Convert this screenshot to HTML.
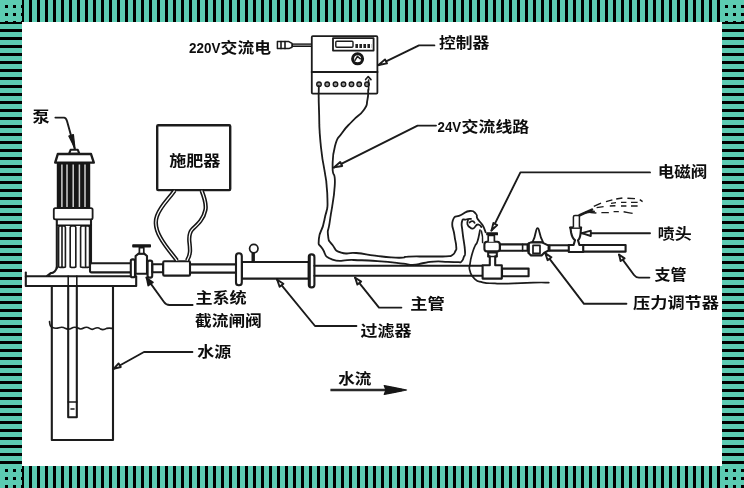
<!DOCTYPE html>
<html lang="zh-CN">
<head>
<meta charset="utf-8">
<title>灌溉施肥系统示意图</title>
<style>
html,body{margin:0;padding:0;background:#fff;}
body{width:744px;height:488px;overflow:hidden;position:relative;}
svg{position:absolute;left:0;top:0;display:block;}
.t{font-family:"Liberation Sans","Noto Sans CJK SC",sans-serif;font-size:15px;font-weight:700;fill:#111;}
.l{fill:none;stroke:#1a1a1a;stroke-width:2.1;stroke-linecap:round;stroke-linejoin:round;}
.w{fill:#fff;stroke:#1a1a1a;stroke-width:2.1;stroke-linejoin:round;}
.k{fill:#151515;stroke:none;}
</style>
</head>
<body>
<svg width="744" height="488" viewBox="0 0 744 488">
<defs>
<pattern id="pv" x="0" y="0" width="8" height="8" patternUnits="userSpaceOnUse"><rect x="0" y="0" width="8" height="8" fill="#5ccbb2"/><rect x="5" y="0" width="3" height="8" fill="#000"/></pattern>
<pattern id="ph" x="0" y="0" width="8" height="8" patternUnits="userSpaceOnUse"><rect x="0" y="0" width="8" height="8" fill="#5ccbb2"/><rect x="0" y="5" width="8" height="3" fill="#000"/></pattern>
<pattern id="pd" x="0" y="0" width="8" height="8" patternUnits="userSpaceOnUse"><rect x="0" y="0" width="8" height="8" fill="#5ccbb2"/><rect x="5" y="5" width="3" height="3" fill="#000"/></pattern>
<filter id="soft" x="0" y="0" width="744" height="488" filterUnits="userSpaceOnUse"><feGaussianBlur stdDeviation="0.55"/></filter>
</defs>
<!-- border -->
<g id="border" shape-rendering="crispEdges">
<rect x="0" y="0" width="744" height="488" fill="#5ccbb2"/>
<rect x="22" y="0" width="698" height="22" fill="url(#pv)"/>
<rect x="22" y="466" width="698" height="22" fill="url(#pv)"/>
<rect x="0" y="22" width="22" height="442" fill="url(#ph)"/>
<rect x="722" y="22" width="22" height="442" fill="url(#ph)"/>
<rect x="0" y="0" width="22" height="22" fill="url(#pd)"/>
<rect x="720" y="0" width="24" height="22" fill="url(#pd)"/>
<rect x="0" y="464" width="22" height="24" fill="url(#pd)"/>
<rect x="720" y="464" width="24" height="24" fill="url(#pd)"/>
<rect x="22" y="22" width="700" height="444" fill="#fff"/>
</g>
<g id="drawing" filter="url(#soft)">
<g id="diagram">
<!-- well and platform -->
<g id="well">
<path class="l" d="M51.8 286 V440 H113 V286"/>
<path class="l" d="M68.2 276.5 V417.3 H76.8 V276.5"/>
<path class="l" d="M68.2 402 H76.8 M71 409 H74" style="stroke-width:1.6"/>
<path class="l" d="M49.5 321.5 q0.3 5 2.5 5.8 q3.5 1.6 7 0.4 q3.4 -1.2 6.2 0.6 q3 1.8 6.3 -0.1 q3 -1.7 6.5 -0.2 q2.8 1.9 5.6 0 q3 -1.8 6 0.4 q2.6 1.9 5.2 0 q3 -1.6 5.6 0.6 q3 1.4 6.2 -0.6 q2.6 -0.6 5.4 0" style="stroke-width:1.6"/>
<path class="w" d="M25.8 276.2 H136.2 V286 H25.8 Z"/>
<path class="l" d="M25.8 276.2 V272.6"/>
<path class="l" d="M68.2 276.5 V286 M76.8 276.5 V286" style="stroke-width:1.6"/>
</g>
<!-- pump -->
<g id="pump">
<path class="w" d="M69 153.8 L70.6 149.8 H77.8 L79.4 153.8 Z"/>
<path class="w" d="M55.2 162.6 L57.8 154 H91 L93.8 162.6 Z" style="stroke-width:2.4"/>
<rect class="k" x="56.8" y="162.6" width="33.4" height="45.6"/>
<path d="M61.9 164.5 V207 M67 164.5 V207 M73.2 164.5 V207 M79.4 164.5 V207 M85 164.5 V207" fill="none" stroke="#cfcfcf" stroke-width="1.5"/>
<rect class="w" x="53.8" y="208.2" width="38.8" height="11.2" rx="1.6" style="stroke-width:1.8"/>
<path class="l" d="M56.8 220 V268 M91 220 V264"/>
<path class="l" d="M57.5 225.2 H90.5" style="stroke-width:1.6"/>
<path class="l" d="M58.6 267 V227.6 q0 -1.6 1.6 -1.6 H63.8 q1.6 0 1.6 1.6 V267 q-3.4 1 -6.8 0 Z M62 227 V267" style="stroke-width:1.6"/>
<path class="l" d="M70.2 267 V227.6 q0 -1.6 1.6 -1.6 H74.2 q1.6 0 1.6 1.6 V267 q-2.8 1 -5.6 0 Z" style="stroke-width:1.6"/>
<path class="l" d="M80.6 267 V227.6 q0 -1.6 1.6 -1.6 H88 q1.6 0 1.6 1.6 V267 q-4.5 1 -9 0 Z M85.6 227 V267" style="stroke-width:1.6"/>
<path class="l" d="M56.8 267.4 Q55.6 272.6 50.5 273.2 L47.2 275.8 M50.5 273.2 L48 276" />
</g>
<!-- pipe pump -> valve -->
<g id="pipe1">
<path class="w" d="M130.8 263.2 H91.6 q-1.6 0 -1.6 1.6 V270.8 q0 1.6 1.6 1.6 H130.8"/>
</g>
<!-- gate valve -->
<g id="valve">
<rect class="w" x="130.8" y="259.4" width="4.2" height="17.8" rx="1.8"/>
<path class="w" d="M135.6 273.8 V256 L138.6 253.6 H144.2 L147 256 V273.8 Z"/>
<rect class="w" x="147.6" y="260.6" width="4.6" height="17" rx="1.8"/>
<path class="w" d="M139.4 253.6 V247.6 H143.8 V253.6 Z" style="stroke-width:1.7"/>
<rect class="k" x="132.2" y="244.2" width="18.8" height="3.4" rx="0.8"/>
<path class="w" d="M152.4 264.2 H163.2 V272.2 H152.4 Z"/>
</g>
<!-- injector -->
<g id="injector">
<rect class="w" x="163.2" y="261.2" width="26.8" height="14.4" rx="1.2"/>
<path class="l" d="M190 264.4 H236 M190 272.6 H236"/>
</g>
<!-- filter -->
<g id="filter">
<path class="w" d="M241.8 262 H308.8 V278.6 H241.8 Z"/>
<rect class="w" x="236" y="253.2" width="5.8" height="32" rx="2.8"/>
<rect class="w" x="308.8" y="254.4" width="5.6" height="33" rx="2.6"/>
<path class="l" d="M309.6 256.5 V285.5" style="stroke-width:2.4"/>
<path class="l" d="M253.2 253 V261.6" style="stroke-width:3.4;stroke-linecap:butt"/>
<circle class="w" cx="253.8" cy="248.6" r="4.2" style="stroke-width:1.7"/>
</g>
<!-- main pipe -->
<g id="mainpipe">
<path class="l" d="M314.4 265.8 H482.6 M314.4 275.8 H482.6"/>
<path class="w" d="M502 268.6 H528.6 V276.2 H502 Z"/>
<path class="w" d="M482.6 265.2 H489.8 V256.4 H488.2 V252.4 H496.8 V256.4 H495.2 V265.2 H501.8 V278.6 H482.6 Z" />
<path class="l" d="M488.2 256.4 H496.8" style="stroke-width:1.5"/>
</g>
<!-- solenoid valve + branch line -->
<g id="solenoid">
<path class="w" d="M499.8 244.4 H527.6 V250.8 H499.8 Z"/>
<path class="l" d="M522.6 244.4 V250.8" style="stroke-width:1.6"/>
<rect class="w" x="484.4" y="241.8" width="15.4" height="9.6" rx="2.6"/>
<path class="w" d="M488.2 241.8 V235.4 H494.4 V241.8" style="stroke-width:1.7"/>
<rect class="k" x="486.2" y="232.3" width="11.8" height="3" rx="0.6"/>
</g>
<g id="regulator">
<path class="w" d="M532.4 242.4 Q534.8 238 535.8 232 Q537.6 224.4 539.4 232 Q540.6 238 543.2 242.4 Z" style="stroke-width:1.8"/>
<path class="w" d="M528.6 243.4 L531 242.4 H541.6 L544 243.4 L548.6 245.6 V250.4 L544 253 L541.6 255.4 H531 L528.6 253 Z"/>
<rect class="w" x="533" y="245.4" width="7" height="8" style="stroke-width:1.7"/>
<path class="l" d="M528.6 243.4 V253" style="stroke-width:2"/>
<path class="l" d="M548.8 245.2 H569 M548.8 250.6 H569"/>
<path class="l" d="M549.4 245.6 V250.4" style="stroke-width:2.2"/>
</g>
<g id="sprinkler">
<path class="w" d="M583 245 H625.6 V251.6 H583 Z"/>
<path class="w" d="M570.4 227.8 L571.2 233 Q572.4 238.4 575 240.2 L573.6 245 H568.8 V252 H583.2 V245 H579.4 L578 240.2 Q580.2 238.4 580.6 233 L581 227.8 Z"/>
<path class="l" d="M570 227.6 H581.2" style="stroke-width:2"/>
<path class="w" d="M573.4 227.4 V217 q0 -1.6 1.6 -1.6 H579.4 V227.4" style="stroke-width:1.5"/>
<path class="l" d="M579.6 215.2 L592 209.6" style="stroke-width:2.6"/>
<path class="l" d="M586 212.4 L594 211.4" style="stroke-width:2"/>
<g class="l" style="stroke-width:1.4;stroke-linecap:butt">
<path d="M593.8 206.4 L601 203.2 M606 201.6 L612.4 199.8 M616.2 199 L622.4 198 M627.4 198.2 L635 198.6 M639.8 199.6 L642.6 201.6"/>
<path d="M596.6 207.6 L603.6 206.6 M609.8 206 L615.4 205.8 M611 203.4 L616 202.6 M621 202.4 H626.4 M631 202.4 H637.6 M621 206 H626.4 M631 206 H637.6"/>
<path d="M590.4 212.6 L596.4 213 M601.4 212.6 H608.8 M613.6 211.6 H618.8 M623.6 211.8 L628 212.6 L632.6 213.4"/>
</g>
</g>
<!-- fertilizer box -->
<g id="fert">
<rect class="w" x="157.2" y="125.3" width="73" height="64.8" rx="1" style="stroke-width:2.4"/>
<path d="M174.6 190.6 C168 200 160.5 206 157 216 C154 224 156.6 231 160.6 238 C165 246 171 252.6 177 260.6" fill="none" stroke="#151515" stroke-width="4.3"/>
<path d="M174.6 190.6 C168 200 160.5 206 157 216 C154 224 156.6 231 160.6 238 C165 246 171 252.6 177 260.6" fill="none" stroke="#fff" stroke-width="1.2"/>
<path d="M201.6 190.6 C204.6 198 206.6 204 205.4 210 C203.6 219 198 224 192.6 229 C189.6 232 188.8 236 189.4 242 C190.2 249 191 254 187 260.6" fill="none" stroke="#151515" stroke-width="4.3"/>
<path d="M201.6 190.6 C204.6 198 206.6 204 205.4 210 C203.6 219 198 224 192.6 229 C189.6 232 188.8 236 189.4 242 C190.2 249 191 254 187 260.6" fill="none" stroke="#fff" stroke-width="1.2"/>
</g>
<!-- controller -->
<g id="controller">
<rect class="w" x="311.8" y="36.2" width="65.6" height="57.4" rx="1" style="stroke-width:1.8"/>
<path class="l" d="M311.8 72 H377.4"/>
<rect class="w" x="333" y="38.2" width="40.6" height="12.4" style="stroke-width:1.8"/>
<rect class="w" x="335.8" y="41.2" width="17.2" height="6" rx="1" style="stroke-width:1.4"/>
<path d="M355.4 46 H371.6" fill="none" stroke="#222" stroke-width="4.2" stroke-dasharray="2.6 1.4"/>
<circle cx="357.6" cy="58.8" r="5" fill="#fff" stroke="#151515" stroke-width="3"/>
<path class="l" d="M355 60.4 L357.4 56.4 L360.4 58.8" style="stroke-width:1.5"/>
<g fill="#999" stroke="#151515" stroke-width="1.3">
<circle cx="319" cy="84.3" r="2.3"/><circle cx="327.2" cy="84.3" r="2.3"/><circle cx="335.5" cy="84.3" r="2.3"/><circle cx="343.5" cy="84.3" r="2.3"/><circle cx="351.5" cy="84.3" r="2.3"/><circle cx="359.2" cy="84.3" r="2.3"/><circle cx="367" cy="84.3" r="2.3"/>
</g>
<path class="l" d="M365.6 79.6 L368.2 76.6 L371 79.6 M368.6 80 V90" style="stroke-width:1.6"/>
<!-- plug -->
<path d="M292 45.2 H311.8" fill="none" stroke="#151515" stroke-width="3.6"/>
<path d="M293 45.2 H311" fill="none" stroke="#bbb" stroke-width="0.9"/>
<path class="w" d="M277.4 41.6 H288.8 L292 43.4 V47.2 L288.8 48.6 H277.4 Z" style="stroke-width:1.5"/>
<path class="l" d="M281 41.6 V48.6 M285 41.6 V48.6" style="stroke-width:1.6"/>
</g>
<!-- wires -->
<g id="wires" class="l" style="stroke-width:1.8">
<path d="M318.8 86.0 C318.9 93.2 318.3 91.5 319.0 110.0 C319.7 128.4 318.5 122.8 321.0 147.5 C323.5 172.2 326.2 170.8 327.2 192.5 C328.2 214.2 326.9 206.2 324.4 220.0 C321.9 233.8 319.5 230.0 318.9 238.6 C318.3 247.2 318.4 242.5 322.5 248.8 C326.6 255.1 323.1 256.2 332.5 259.6 C341.9 263.0 340.3 259.5 353.8 260.0 C367.3 260.5 362.7 260.1 377.5 261.2 C392.3 262.3 392.5 262.5 403.0 263.6 C413.5 264.7 406.3 265.0 412.5 264.8 C418.7 264.6 417.4 264.0 423.8 263.0 C430.2 262.0 426.5 262.0 433.8 261.6 C441.1 261.2 440.7 261.7 448.0 261.8 C455.3 261.9 453.9 262.2 458.0 262.1 C462.1 262.0 459.9 262.9 461.6 261.4 C463.3 259.9 462.8 260.1 463.8 257.0 C464.8 253.9 465.4 258.4 465.0 251.0 C464.6 243.7 463.5 241.3 462.6 232.5 C461.7 223.7 461.0 225.4 462.0 221.5 C463.0 217.6 463.3 220.3 466.0 219.5 C468.7 218.7 469.5 219.0 471.0 218.8"/>
<path d="M368.2 90.0 C368.0 93.0 368.7 94.0 367.4 100.0 C366.1 106.0 368.3 103.7 363.8 110.0 C359.3 116.3 359.0 114.1 352.5 121.0 C346.0 127.9 347.2 125.5 342.0 133.0 C336.8 140.5 337.8 135.7 335.0 146.0 C332.2 156.3 332.7 155.8 332.6 167.5 C332.5 179.2 335.6 169.2 334.8 185.0 C334.0 200.8 332.0 205.0 330.0 220.0 C328.0 235.0 327.2 227.5 328.0 235.0 C328.8 242.5 328.5 239.7 332.5 245.0 C336.5 250.3 334.1 250.2 341.2 252.6 C348.3 255.0 346.1 252.1 356.2 253.0 C366.3 253.9 364.5 254.3 375.0 255.6 C385.5 256.9 382.9 256.8 391.2 257.4 C399.4 258.0 397.2 257.8 402.5 257.6 C407.8 257.4 400.6 256.9 408.8 256.6 C417.1 256.3 418.8 256.6 430.0 256.5 C441.2 256.4 439.4 256.7 446.0 256.3 C452.6 255.9 449.2 256.8 452.0 255.2 C454.8 253.6 454.1 253.7 455.4 251.0 C456.7 248.3 456.5 251.0 456.2 246.2 C455.9 241.4 455.4 242.7 454.4 235.0 C453.4 227.3 450.8 226.5 452.8 220.5 C454.8 214.5 455.8 217.8 461.0 215.0 C466.2 212.2 465.5 211.3 470.0 211.0 C474.5 210.7 473.8 211.7 476.0 214.0 C478.2 216.3 475.6 215.5 477.5 218.8 C479.4 222.1 480.1 221.0 482.5 225.0 C484.9 229.0 484.7 230.0 485.6 232.2"/>
<path d="M468 220.4 C466.4 223 467.4 226 470 227.4 C472 229.4 474 229 475.4 226.4 C477 223.6 480 224 481.4 227 M469.6 222.6 C471 220.6 473.6 220.6 474.6 222.8" style="stroke-width:1.8"/>
<path d="M480.0 230.0 C479.3 233.3 479.1 236.2 477.6 241.0 C476.1 245.8 476.6 242.4 475.0 246.0 C473.4 249.6 473.9 247.7 472.4 253.0 C470.9 258.3 470.7 258.4 470.0 263.8 C469.3 269.2 468.7 266.6 470.0 271.0 C471.3 275.4 470.6 275.2 474.4 278.6 C478.1 282.0 476.3 280.9 482.5 282.3 C488.7 283.7 487.4 283.0 495.0 283.4 C502.6 283.8 496.6 283.8 508.0 283.6 C519.4 283.4 520.8 282.9 533.0 282.6 C545.2 282.3 544.1 282.6 548.8 282.6" style="stroke-width:1.7"/>
<path d="M481.4 231 C482.6 235 482.8 239 482.6 242.6" style="stroke-width:1.5"/>
</g>
</g>
<g id="leaders" class="l" style="stroke-width:1.9">
<!-- pump -->
<path d="M55.4 117.6 H64 C66 117.6 66.4 119 67 121 L74.6 148.6"/>
<path class="k" d="M68.8 136 L75 148.6 L73.4 134.6 Z" style="stroke-width:1.2;stroke:#151515"/>
<!-- valve -->
<path d="M146.4 277.6 L164 302 Q166 305 169.6 305 H192.6"/>
<path class="k" d="M146.6 277.8 L148.2 285.6 L153 282.4 Z" style="stroke-width:1.6;stroke:#151515"/>
<!-- water source -->
<path d="M113.4 369 L144 352 H192.4"/>
<path d="M113.6 368.8 L118.6 363.4 L120.8 367 Z" fill="#fff"/>
<!-- filter -->
<path d="M277 279.6 L315 326 H356.4"/>
<path d="M277.2 279.8 L279.6 286.8 L283.4 283.8 Z" fill="#fff"/>
<!-- main pipe -->
<path d="M355 277.6 L379 307.6 H401.4"/>
<path d="M355.2 277.8 L357.4 284.6 L361.2 281.6 Z" fill="#fff"/>
<!-- controller -->
<path d="M378.4 65.2 L419 45.4 H434.4"/>
<path d="M378.6 65 L385 59.4 L387 63.4 Z" fill="#fff"/>
<!-- 24V -->
<path d="M333.8 167.6 L417.6 125.6 H436"/>
<path d="M334 167.4 L340.2 162 L342.2 166 Z" fill="#fff"/>
<!-- solenoid -->
<path d="M491.4 230.6 L520.4 172.4 H650"/>
<path d="M491.6 230.4 L493.4 223 L497.2 225 Z" fill="#fff"/>
<!-- sprinkler -->
<path d="M581.6 233.2 H650"/>
<path d="M581.8 233.2 L590.8 230.6 V236 Z" fill="#fff"/>
<!-- branch -->
<path d="M619 254.6 L634 275 Q636 277.6 639 277.6 H649.4"/>
<path d="M619.2 254.8 L620.6 261 L624.6 258.4 Z" fill="#fff"/>
<!-- regulator -->
<path d="M545.2 253.2 L584 303.8 H626.4"/>
<path d="M545.4 253.4 L547.6 260.2 L551.4 257.2 Z" fill="#fff"/>
<!-- flow arrow -->
<path d="M330.4 390 H402" style="stroke-width:2.6;stroke-linecap:butt;stroke:#2a2a2a"/>
<path class="k" d="M384.2 385.6 L394.6 387.6 L406.6 390 L394.6 392.4 L384.2 394.4 L386 390 Z" style="stroke-width:1.2;stroke:#151515"/>
</g>
<g id="labels" class="t">
<text x="32.4" y="121.6" textLength="17.1" lengthAdjust="spacingAndGlyphs">泵</text>
<text x="169.2" y="166.1" textLength="51.3" lengthAdjust="spacingAndGlyphs">施肥器</text>
<text x="189" y="52.6"><tspan x="189" textLength="31.4" lengthAdjust="spacingAndGlyphs">220V</tspan><tspan x="220.6" textLength="50.4" lengthAdjust="spacingAndGlyphs">交流电</tspan></text>
<text x="439" y="47.7" textLength="50.4" lengthAdjust="spacingAndGlyphs">控制器</text>
<text x="437.6" y="131.7"><tspan x="437.6" textLength="23.6" lengthAdjust="spacingAndGlyphs">24V</tspan><tspan x="461.6" textLength="67.6" lengthAdjust="spacingAndGlyphs">交流线路</tspan></text>
<text x="657.8" y="177.3" textLength="49.4" lengthAdjust="spacingAndGlyphs">电磁阀</text>
<text x="657.8" y="238.7" textLength="34" lengthAdjust="spacingAndGlyphs">喷头</text>
<text x="654.4" y="280.3" textLength="32" lengthAdjust="spacingAndGlyphs">支管</text>
<text x="633" y="307.5" textLength="86" lengthAdjust="spacingAndGlyphs">压力调节器</text>
<text x="410.3" y="308.7" textLength="34.6" lengthAdjust="spacingAndGlyphs">主管</text>
<text x="360.6" y="335.7" textLength="50.8" lengthAdjust="spacingAndGlyphs">过滤器</text>
<text x="195.4" y="302.8" textLength="51.3" lengthAdjust="spacingAndGlyphs">主系统</text>
<text x="195" y="325.8" textLength="66.8" lengthAdjust="spacingAndGlyphs">截流闸阀</text>
<text x="197.3" y="356.7" textLength="34" lengthAdjust="spacingAndGlyphs">水源</text>
<text x="338.2" y="383.6" textLength="33.2" lengthAdjust="spacingAndGlyphs">水流</text>
</g>
</g>
</svg>
</body>
</html>
